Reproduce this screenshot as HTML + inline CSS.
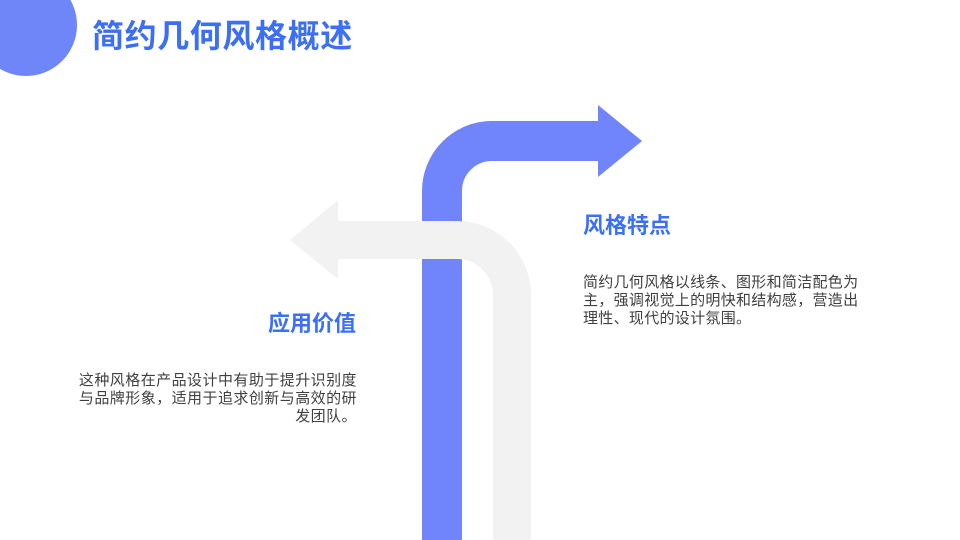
<!DOCTYPE html>
<html><head><meta charset="utf-8"><style>
*{margin:0;padding:0}
body{width:960px;height:540px;overflow:hidden;background:#fff;position:relative;font-family:"Liberation Sans","Noto Sans CJK SC",sans-serif}
.t{position:absolute;white-space:nowrap}
.h{color:#3b6ff6;font-weight:bold}
.p{color:#404040;font-size:15px;line-height:18px}
</style></head><body>
<svg width="960" height="540" style="position:absolute;left:0;top:0">
<circle cx="26" cy="25" r="51" fill="#6f86f8"/>
<path d="M442 545 V191 A50 50 0 0 1 492 141 H600" fill="none" stroke="#7085fc" stroke-width="40"/>
<polygon points="598,105 642,141 598,177" fill="#7085fc"/>
<path d="M512 545 V295 A55 55 0 0 0 457 240 H336" fill="none" stroke="#f2f2f2" stroke-width="38"/>
<polygon points="338,200 290,240 338,279" fill="#f2f2f2"/>
</svg>
<div class="t h" style="left:92px;top:14px;font-size:32px;line-height:44px;letter-spacing:0.6px">简约几何风格概述</div>
<div class="t h" style="left:583px;top:211px;font-size:22px;line-height:30px">风格特点</div>
<div class="t p" style="left:583px;top:274px;letter-spacing:0.3px">简约几何风格以线条、图形和简洁配色为<br>主，强调视觉上的明快和结构感，营造出<br>理性、现代的设计氛围。</div>
<div class="t h" style="right:604px;top:309px;font-size:22px;line-height:30px;text-align:right">应用价值</div>
<div class="t p" style="right:603px;top:372px;text-align:right;letter-spacing:0.45px">这种风格在产品设计中有助于提升识别度<br>与品牌形象，适用于追求创新与高效的研<br>发团队。</div>
</body></html>
